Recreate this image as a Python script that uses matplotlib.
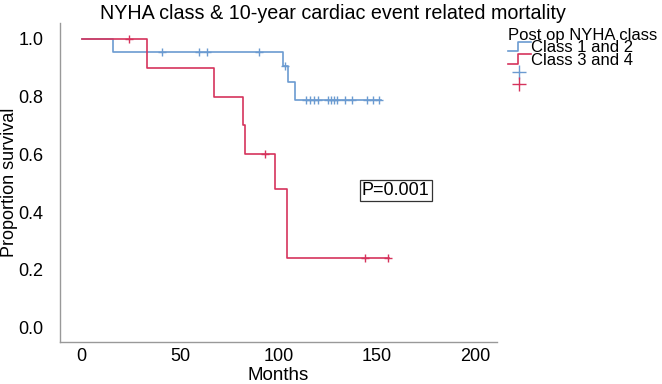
import numpy as np
import matplotlib
matplotlib.use('Agg')
import matplotlib.pyplot as plt
from matplotlib.lines import Line2D
from matplotlib.legend_handler import HandlerBase

plt.rcParams['font.family'] = ['Liberation Sans', 'DejaVu Sans']

# Kaplan-Meier step curves (time in months, survival proportion)
blue_t = [0, 16, 102.5, 105, 108.5, 152]
blue_s = [1.0, 0.955, 0.905, 0.85, 0.79, 0.79]
blue_cens = [41, 59.5, 63.5, 90, 103.3, 114, 116, 118, 120, 125, 126.5,
             128, 129.5, 134, 137.5, 145, 148, 151]

red_t = [0, 33, 67, 82, 82.8, 98.2, 104.5, 156]
red_s = [1.0, 0.9, 0.8, 0.7, 0.6, 0.48, 0.24, 0.24]
red_cens = [24, 93, 144, 155.5]

labels = ['Class 1 and 2', 'Class 3 and 4']
blue = '#6b9bd1'
red = '#d6335c'

x_ticks = [0, 50, 100, 150, 200]
y_ticks = [0.0, 0.2, 0.4, 0.6, 0.8, 1.0]


def step_value(times, surv, t):
    # survival level at time t of a right-continuous step curve
    idx = np.searchsorted(times, t, side='right') - 1
    return np.asarray(surv)[idx]


class StepHandler(HandlerBase):
    """Draws a small step glyph in the legend."""

    def create_artists(self, legend, orig_handle, xdescent, ydescent,
                       width, height, fontsize, trans):
        mid = width * 0.45 - xdescent
        xs = [-xdescent, mid, mid, width - xdescent]
        ys = [height * 0.05 - ydescent, height * 0.05 - ydescent,
              height * 0.95 - ydescent, height * 0.95 - ydescent]
        line = Line2D(xs, ys, color=orig_handle.get_color(), lw=1.2,
                      transform=trans)
        return [line]


fig = plt.figure(figsize=(6.62, 3.84), dpi=100)
ax = fig.add_axes([60 / 662, 1 - 342 / 384, 437 / 662, 319 / 384])

b_line, = ax.step(blue_t, blue_s, where='post', color=blue, lw=1.2)
r_line, = ax.step(red_t, red_s, where='post', color=red, lw=1.2)

b_cens, = ax.plot(blue_cens, step_value(blue_t, blue_s, blue_cens), '+',
                  color=blue, ms=6, mew=1.0)
r_cens, = ax.plot(red_cens, step_value(red_t, red_s, red_cens), '+',
                  color=red, ms=6, mew=1.0)

ax.set_xlim(-11, 211)
ax.set_ylim(-0.05, 1.055)
ax.set_xticks(x_ticks)
ax.set_yticks(y_ticks)
ax.set_yticklabels([f'{v:.1f}' for v in y_ticks])
ax.tick_params(axis='both', length=0, labelsize=13)
ax.tick_params(axis='y', pad=12)
ax.tick_params(axis='x', pad=4)

for side in ['top', 'right']:
    ax.spines[side].set_visible(False)
for side in ['left', 'bottom']:
    ax.spines[side].set_color('#999999')
    ax.spines[side].set_linewidth(1.0)

ax.set_xlabel('Months', fontsize=13.5, labelpad=2)
ax.set_ylabel('Proportion survival', fontsize=13)
ax.yaxis.set_label_coords((18 - 60) / 437, 0.5)

ax.text(159.5, 0.474, 'P=0.001', fontsize=13, ha='center', va='center',
        bbox=dict(boxstyle='square,pad=0.12', fc='white', ec='#333333', lw=0.9))

fig.text(0.503, 0.99, 'NYHA class & 10-year cardiac event related mortality',
         fontsize=14.2, ha='center', va='top')

leg = ax.legend([b_line, r_line, b_cens, r_cens], labels + [' ', ' '],
                title='Post op NYHA class', loc='upper left',
                bbox_to_anchor=(508 / 662, 1 - 28 / 384),
                bbox_transform=fig.transFigure, frameon=False, fontsize=12,
                title_fontsize=12, handler_map={b_line: StepHandler(),
                                                 r_line: StepHandler()},
                handlelength=1.35, handleheight=0.6, handletextpad=0.0,
                labelspacing=-0.15, borderpad=0, borderaxespad=0,
                markerscale=1.6)
leg._legend_box.align = 'left'

fig.savefig('out.png', dpi=100)
